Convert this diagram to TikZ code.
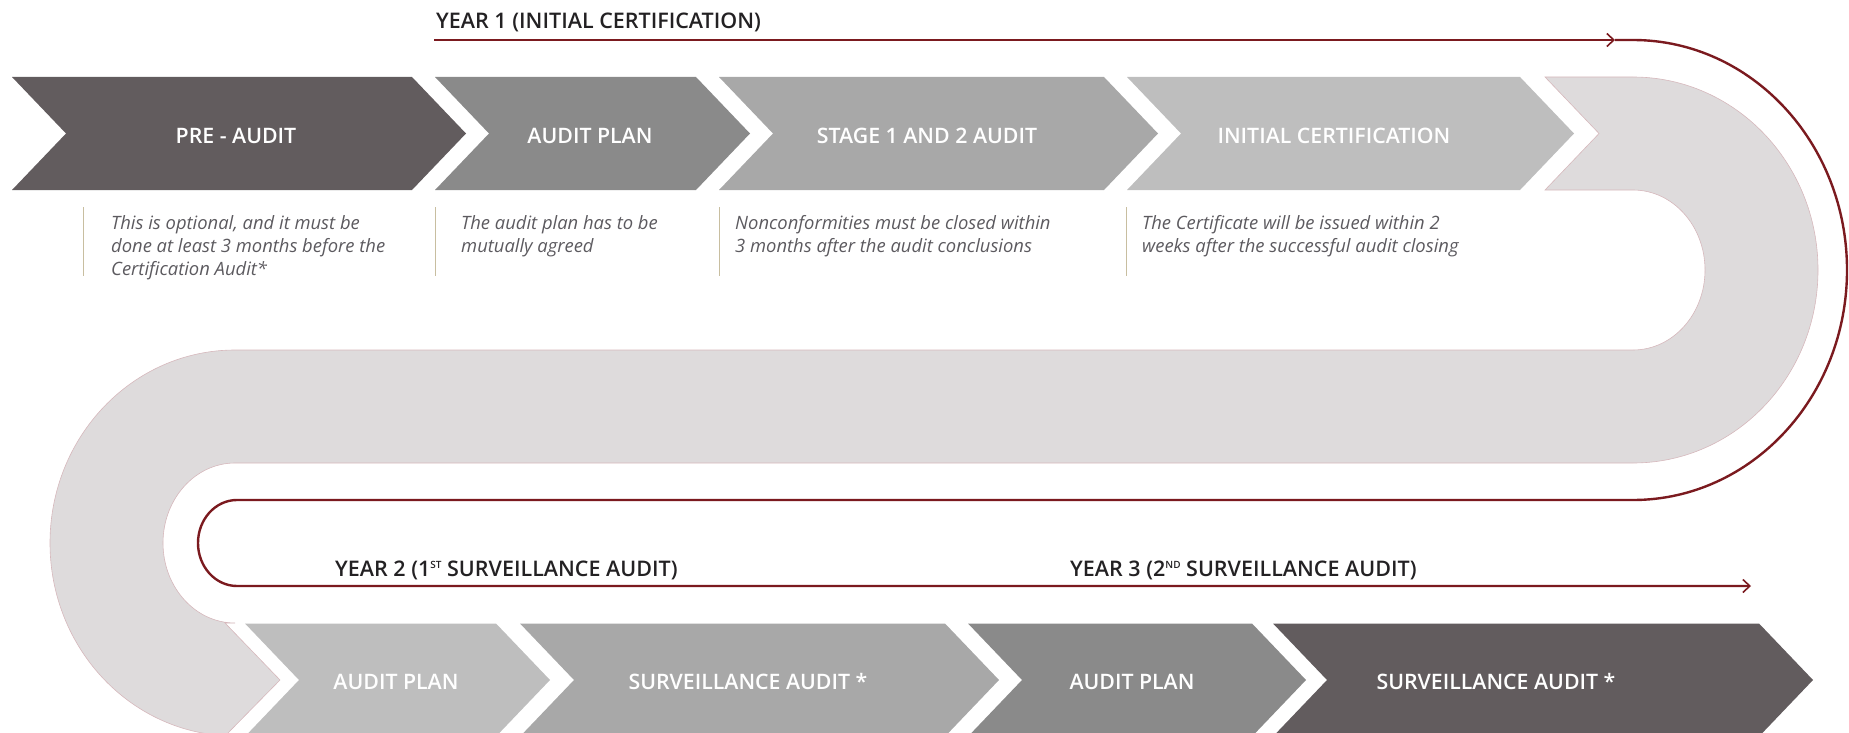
\documentclass[tikz,border=0pt]{standalone}
\usepackage{fontspec}
\setmainfont{Open Sans}
\newfontfamily\semib{Open Sans Semibold}
\usetikzlibrary{arrows.meta}
\definecolor{cA}{RGB}{98,92,94}
\definecolor{cB}{RGB}{138,138,138}
\definecolor{cC}{RGB}{168,168,168}
\definecolor{cD}{RGB}{190,190,190}
\definecolor{bandc}{RGB}{222,219,220}
\definecolor{bandedge}{RGB}{214,184,188}
\definecolor{redc}{RGB}{123,26,31}
\definecolor{darkt}{RGB}{35,33,35}
\definecolor{desct}{RGB}{92,90,95}
\definecolor{barc}{RGB}{200,190,160}
\newcommand\chevshape[4]{% left x, base x, mid y, colour
  \fill[#4] ({#1},{#3-56.5}) -- ({#2},{#3-56.5}) -- ({#2+54},{#3}) -- ({#2},{#3+56.5}) -- ({#1},{#3+56.5}) -- ({#1+54},{#3}) -- cycle;}
\newcommand\supsm[1]{\raisebox{7.5pt}{\fontsize{10}{10}\selectfont #1}}
\begin{document}
\begin{tikzpicture}[x=1pt,y=-1pt,
  steplabel/.style={text=white,font=\semib\fontsize{21.3}{25}\selectfont,inner sep=0pt},
  yearlabel/.style={text=darkt,font=\semib\fontsize{21.5}{24}\selectfont,inner sep=0pt,anchor=base west},
  desc/.style={text=desct,font=\itshape\fontsize{18.4}{23}\selectfont,inner sep=0pt,anchor=base west,align=left},
  descbar/.style={draw=barc,line width=1pt},
  redline/.style={draw=redc,line width=2.4pt},
  tip/.style={-{Straight Barb[length=7pt,width=13pt,line width=1.6pt]}}]
\useasboundingbox (0,0) rectangle (1849,733);
% big S band
\fill[bandc,draw=bandedge,line width=0.6pt] (1545,77) -- (1633,77)
  arc[start angle=-90,end angle=90,x radius=185,y radius=193] -- (235,463)
  arc[start angle=-90,end angle=-270,x radius=72,y radius=80] -- (225,623)
  -- (280,680) -- (225,736) -- (235,736)
  arc[start angle=90,end angle=270,x radius=185,y radius=193] -- (1633,350)
  arc[start angle=90,end angle=-90,x radius=72,y radius=80] -- (1545,190)
  -- (1599,133.5) -- cycle;
% top chevrons
\chevshape{12}{412}{133.5}{cA}
\chevshape{435}{696}{133.5}{cB}
\chevshape{719}{1104}{133.5}{cC}
\chevshape{1127}{1520}{133.5}{cD}
% bottom chevrons
\chevshape{245}{496}{680}{cD}
\chevshape{520}{945}{680}{cC}
\chevshape{968}{1252}{680}{cB}
\chevshape{1273}{1759}{680}{cA}
% step labels
\node[steplabel] (t1) at (236,135.5) {PRE - AUDIT};
\node[steplabel] (t2) at (590,135.5) {AUDIT PLAN};
\node[steplabel] (t3) at (927,135.5) {STAGE 1 AND 2 AUDIT};
\node[steplabel] (t4) at (1334,135.5) {INITIAL CERTIFICATION};
\node[steplabel] (b1) at (396,681.5) {AUDIT PLAN};
\node[steplabel] (b2) at (748,681.5) {SURVEILLANCE AUDIT *};
\node[steplabel] (b3) at (1132,681.5) {AUDIT PLAN};
\node[steplabel] (b4) at (1496,681.5) {SURVEILLANCE AUDIT *};
% descriptions (base anchor = baseline of last line)
\draw[descbar] (83,207) -- (83,276);
\draw[descbar] (435,207) -- (435,276);
\draw[descbar] (719,207) -- (719,276);
\draw[descbar] (1126,207) -- (1126,276);
\node[desc] (d1) at (111,275) {This is optional, and it must be\\done at least 3 months before the\\Certification Audit*};
\node[desc] (d2) at (461,252) {The audit plan has to be\\mutually agreed};
\node[desc] (d3) at (735,252) {Nonconformities must be closed within\\3 months after the audit conclusions};
\node[desc] (d4) at (1142,252) {The Certificate will be issued within 2\\weeks after the successful audit closing};
% year labels
\node[yearlabel] (y1) at (436,29) {YEAR 1 (INITIAL CERTIFICATION)};
\node[yearlabel] (y2) at (335,576) {YEAR 2 (1\supsm{ST} SURVEILLANCE AUDIT)};
\node[yearlabel] (y3) at (1070,576) {YEAR 3 (2\supsm{ND} SURVEILLANCE AUDIT)};
% timeline
\coordinate (r0) at (434,40);
\coordinate (rA) at (1615,40);
\coordinate (r1) at (1751,586);
\draw[redline,tip] (r0) -- (rA);
\draw[redline,tip] (rA) -- (1633,40)
  arc[start angle=-90,end angle=90,x radius=214,y radius=230] -- (237,500)
  arc[start angle=-90,end angle=-270,x radius=39,y radius=43] -- (r1);
\end{tikzpicture}
\end{document}
